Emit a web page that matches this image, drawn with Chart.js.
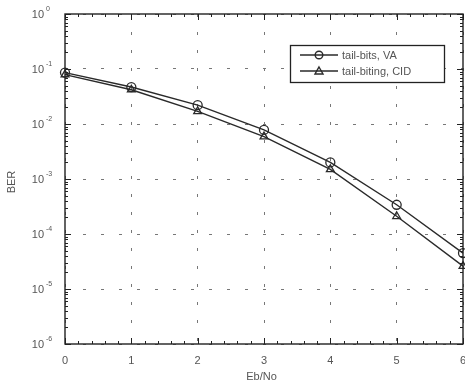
<!DOCTYPE html>
<html>
<head>
<meta charset="utf-8">
<script src="https://cdn.jsdelivr.net/npm/chart.js@4/dist/chart.umd.min.js"></script>
<style>
html,body{margin:0;padding:0;background:#fff;overflow:hidden;width:465px;height:386px;}
canvas{display:block;}
</style>
</head>
<body>
<canvas id="c" width="500" height="386"></canvas>
<script>
// ---- data ----
const ebNo = [0, 1, 2, 3, 4, 5, 6];
const berTailBitsVA = [0.086, 0.047, 0.022, 0.0078, 0.0020, 0.00034, 0.000045];
const berTailBitingCID = [0.079, 0.042, 0.017, 0.0059, 0.0015, 0.00021, 0.000026];
const seriesNames = ['tail-bits, VA', 'tail-biting, CID'];
const yTickExponents = [0, -1, -2, -3, -4, -5, -6];
const xTickValues = [0, 1, 2, 3, 4, 5, 6];
const xTitle = 'Eb/No';
const yTitle = 'BER';

const FONT = '"Liberation Sans", Arial, sans-serif';
const LINE = '#2a2a2a';
const TEXT = '#555';

const framePlugin = {
  id: 'frame',
  afterDraw(chart) {
    const ctx = chart.ctx;
    const a = chart.chartArea;
    const xs = chart.scales.x, ys = chart.scales.y;
    ctx.save();
    ctx.strokeStyle = '#222';
    ctx.lineWidth = 1.4;
    ctx.strokeRect(a.left, a.top, a.right - a.left, a.bottom - a.top);
    ctx.lineWidth = 1;
    ctx.beginPath();
    // x ticks (bottom & top)
    for (let i = 0; i <= 30; i++) {
      const v = i * 0.2;
      const px = Math.round(xs.getPixelForValue(v)) + 0.5;
      const len = (i % 5 === 0) ? 6 : 3;
      ctx.moveTo(px, a.bottom); ctx.lineTo(px, a.bottom - len);
      ctx.moveTo(px, a.top); ctx.lineTo(px, a.top + len);
    }
    // y ticks (left & right)
    for (const e of yTickExponents) {
      for (let m = 1; m <= 9; m++) {
        if (e === 0 && m > 1) continue;
        const v = m * Math.pow(10, e);
        const py = Math.round(ys.getPixelForValue(v)) + 0.5;
        const len = (m === 1) ? 6 : 3;
        ctx.moveTo(a.left, py); ctx.lineTo(a.left + len, py);
        ctx.moveTo(a.right, py); ctx.lineTo(a.right - len, py);
      }
    }
    ctx.stroke();

    // y tick labels with superscripts
    ctx.fillStyle = TEXT;
    ctx.textBaseline = 'middle';
    for (const e of yTickExponents) {
      const py = ys.getPixelForValue(Math.pow(10, e));
      ctx.font = '11px ' + FONT;
      ctx.textAlign = 'right';
      ctx.fillText('10', 44, py + 1);
      ctx.font = '7px ' + FONT;
      ctx.textAlign = 'left';
      ctx.fillText(String(e), 46, py - 5);
    }
    // axis titles
    ctx.font = '11px ' + FONT;
    ctx.textAlign = 'center';
    ctx.fillText(xTitle, (a.left + 462) / 2 - 2, 377);
    ctx.save();
    ctx.translate(12, 182);
    ctx.rotate(-Math.PI / 2);
    ctx.fillText(yTitle, 0, 0);
    ctx.restore();

    // legend box
    const lx = 290, ly = 45, lw = 154, lh = 37;
    ctx.fillStyle = '#fff';
    ctx.fillRect(lx, ly, lw, lh);
    ctx.strokeStyle = '#222';
    ctx.lineWidth = 1.3;
    ctx.strokeRect(lx + 0.5, ly + 0.5, lw, lh);
    const rows = [ly + 10, ly + 26];
    chart.data.datasets.forEach((ds, i) => {
      const y = rows[i];
      ctx.strokeStyle = LINE;
      ctx.lineWidth = 1.4;
      ctx.beginPath();
      ctx.moveTo(300, y); ctx.lineTo(338, y);
      ctx.stroke();
      ctx.beginPath();
      if (i === 0) {
        ctx.arc(319, y, 3.8, 0, Math.PI * 2);
      } else {
        ctx.moveTo(319, y - 4); ctx.lineTo(323, y + 3); ctx.lineTo(315, y + 3); ctx.closePath();
      }
      ctx.stroke();
      ctx.fillStyle = TEXT;
      ctx.font = '11px ' + FONT;
      ctx.textAlign = 'left';
      ctx.textBaseline = 'middle';
      ctx.fillText(ds.label, 342, y + 1);
    });
    ctx.restore();
  }
};

const toPts = (arr) => arr.map((v, i) => ({ x: ebNo[i], y: v }));

new Chart(document.getElementById('c'), {
  type: 'line',
  data: {
    datasets: [
      { label: seriesNames[0], data: toPts(berTailBitsVA), borderColor: LINE, borderWidth: 1.4,
        pointStyle: 'circle', pointRadius: 4.5, pointBorderColor: LINE, pointBackgroundColor: 'rgba(0,0,0,0)', pointBorderWidth: 1.3, tension: 0 },
      { label: seriesNames[1], data: toPts(berTailBitingCID), borderColor: LINE, borderWidth: 1.4,
        pointStyle: 'triangle', pointRadius: 4.5, pointBorderColor: LINE, pointBackgroundColor: 'rgba(0,0,0,0)', pointBorderWidth: 1.3, tension: 0 }
    ]
  },
  options: {
    responsive: false,
    animation: false,
    clip: false,
    layout: { padding: { left: 0, top: 14, right: 37, bottom: 0 } },
    plugins: { legend: { display: false }, tooltip: { enabled: false } },
    scales: {
      x: {
        type: 'linear', min: 0, max: 6,
        afterBuildTicks: (s) => { s.ticks = xTickValues.map(v => ({ value: v })); },
        afterFit: (s) => { s.height = 42; },
        grid: { color: '#777', lineWidth: 1, drawTicks: false },
        border: { display: false, dash: [3, 15] },
        ticks: { color: TEXT, font: { family: FONT, size: 11 }, padding: 10, maxRotation: 0 }
      },
      y: {
        type: 'logarithmic', min: 1e-6, max: 1,
        afterBuildTicks: (s) => { s.ticks = yTickExponents.map(e => ({ value: Math.pow(10, e) })); },
        afterFit: (s) => { s.width = 65; },
        grid: { color: '#777', lineWidth: 1, drawTicks: false },
        border: { display: false, dash: [3, 15] },
        ticks: { display: false }
      }
    }
  },
  plugins: [framePlugin]
});
</script>
</body>
</html>
